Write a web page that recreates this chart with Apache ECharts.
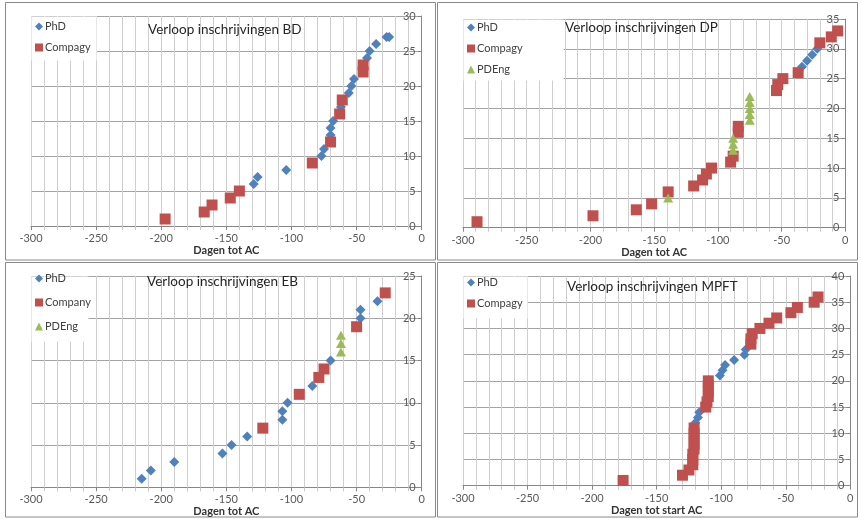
<!DOCTYPE html>
<html>
<head>
<meta charset="utf-8">
<script src="https://cdn.jsdelivr.net/npm/echarts@6/dist/echarts.min.js"></script>
<style>
html,body{margin:0;padding:0;background:#fff;}
#c{width:862px;height:519px;}
</style>
</head>
<body>
<div id="c"></div>
<script>
// ---- Data (days before AC, cumulative registrations) ----
const BD_PhD = [[-129,6],[-126,7],[-104,8],[-77,10],[-75,11],[-70,13],[-70,14],[-68,15],[-62,17],[-56,19],[-54,20],[-52,21],[-42,24],[-40,25],[-35,26],[-27,27],[-25,27]];
const BD_Compagy = [[-197,1],[-167,2],[-161,3],[-147,4],[-140,5],[-84,9],[-70,12],[-63,16],[-61,18],[-45,22],[-45,23]];

const DP_PhD = [[-34,27],[-30,28],[-26,29],[-22,30]];
const DP_Compagy = [[-289,1],[-198,2],[-164,3],[-152,4],[-139,6],[-119,7],[-112,8],[-109,9],[-105,10],[-90,11],[-88,12],[-84,16],[-84,17],[-54,23],[-53,24],[-49,25],[-37,26],[-20,31],[-11,32],[-6,33]];
const DP_PDEng = [[-139,5],[-88,13],[-88,14],[-88,15],[-75,18],[-75,19],[-75,20],[-75,21],[-75,22]];

const EB_PhD = [[-215,1],[-208,2],[-190,3],[-153,4],[-146,5],[-134,6],[-107,8],[-107,9],[-103,10],[-84,12],[-70,15],[-47,20],[-47,21],[-34,22]];
const EB_Company = [[-122,7],[-94,11],[-79,13],[-75,14],[-50,19],[-28,23]];
const EB_PDEng = [[-62,16],[-62,17],[-62,18]];

const MPFT_PhD = [[-120,12],[-118,13],[-117,14],[-101,21],[-99,22],[-97,23],[-90,24],[-82,25],[-81,26]];
const MPFT_Compagy = [[-176,1],[-130,2],[-125,3],[-122,4],[-122,5],[-122,6],[-121,7],[-121,8],[-121,9],[-121,10],[-121,11],[-112,15],[-111,16],[-110,17],[-110,18],[-110,19],[-110,20],[-77,27],[-77,28],[-76,29],[-70,30],[-63,31],[-57,32],[-46,33],[-41,34],[-28,35],[-25,36]];

const titles = ['Verloop inschrijvingen BD','Verloop inschrijvingen DP','Verloop inschrijvingen EB','Verloop inschrijvingen MPFT'];
const xNames = ['Dagen tot AC','Dagen tot AC','Dagen tot AC','Dagen tot start AC'];
const xMin = -300, xMax = 0, xStep = 50;
const yMaxes = [30, 35, 25, 40];
const yStep = 5;

// ---- Layout / style ----
const BLUE = '#4F81BD', RED = '#C0504D', GREEN = '#9BBB59';
const FONT = 'Lato, "Liberation Sans", sans-serif';
const grids = [
  {left:31, top:16, width:390.7, height:210},
  {left:463, top:19, width:382.3, height:208.7},
  {left:31, top:276, width:390.7, height:211.3},
  {left:463, top:276, width:387.3, height:209.7}
];
const titlePos = [[148,23],[565,21],[147,275],[567,280]];
const legendPos = [[35,21],[467,22],[35,273],[467,277]];
const legendGap = [10,10,13,10];
const legendBoxes = [[31,16,65,44],[463,19,100,61],[31,276,57,65],[463,276,64,42]];
const panels = [[5.5,2.5,430,257.5],[437.5,2.5,420,257.5],[5.5,262.5,430,254.5],[437.5,262.5,420,254.5]];

const panelSeries = [
  [['PhD',BD_PhD,'diamond',BLUE],['Compagy',BD_Compagy,'rect',RED]],
  [['PhD',DP_PhD,'diamond',BLUE],['Compagy',DP_Compagy,'rect',RED],['PDEng',DP_PDEng,'triangle',GREEN]],
  [['PhD',EB_PhD,'diamond',BLUE],['Company',EB_Company,'rect',RED],['PDEng',EB_PDEng,'triangle',GREEN]],
  [['PhD',MPFT_PhD,'diamond',BLUE],['Compagy',MPFT_Compagy,'rect',RED]]
];
const symSize = {diamond:[10,10], rect:[11,11], triangle:[10,9]};

const xAxis = [], yAxis = [], series = [], legend = [], title = [], graphic = [];
grids.forEach((g,i)=>{
  xAxis.push({
    type:'value', gridIndex:i, min:xMin, max:xMax, interval:xStep,
    name:xNames[i], nameLocation:'middle', nameGap:19,
    nameTextStyle:{fontFamily:FONT, fontWeight:'bold', fontSize:11, color:'#333'},
    axisLine:{show:true, onZero:false, lineStyle:{color:'#868686', width:1}},
    axisTick:{show:true, length:4, lineStyle:{color:'#868686'}},
    minorTick:{show:true, splitNumber:5, length:4, lineStyle:{color:'#c8c8c8'}},
    axisLabel:{fontFamily:FONT, fontSize:11, color:'#595959', margin:7},
    splitLine:{show:true, lineStyle:{color:'#cfcfcf', width:1}},
    minorSplitLine:{show:true, lineStyle:{color:'#cfcfcf', width:1}}
  });
  yAxis.push({
    type:'value', gridIndex:i, min:0, max:yMaxes[i], interval:yStep, position:'right',
    axisLine:{show:true, onZero:false, lineStyle:{color:'#868686'}},
    axisTick:{show:true, inside:true, length:4, lineStyle:{color:'#868686'}},
    axisLabel:{inside:true, fontFamily:FONT, fontSize:11, color:'#595959', margin:6},
    splitLine:{show:true, lineStyle:{color:'#a3a3a3', width:1}}
  });
  const names = [];
  panelSeries[i].forEach(([name,data,sym,col])=>{
    names.push({name:name, icon:sym, itemStyle:{color:col}});
    series.push({
      type:'scatter', name:name, xAxisIndex:i, yAxisIndex:i, data:data,
      symbol:sym, symbolSize:symSize[sym], itemStyle:{color:col, opacity:1},
      emphasis:{disabled:true}, animation:false
    });
  });
  legend.push({
    data:names, orient:'vertical', left:legendPos[i][0], top:legendPos[i][1],
    itemGap:legendGap[i], itemWidth:8, itemHeight:8, padding:0, selectedMode:false,
    textStyle:{fontFamily:FONT, fontSize:11, color:'#404040', padding:[0,0,0,-3]}
  });
  title.push({
    text:titles[i], left:titlePos[i][0], top:titlePos[i][1], padding:0,
    textStyle:{fontFamily:FONT, fontSize:13.5, fontWeight:'normal', color:'#262626'}
  });
  const b = legendBoxes[i];
  graphic.push({type:'rect', z:1, shape:{x:b[0]+0.5, y:b[1]+0.5, width:b[2], height:b[3]}, style:{fill:'#fff', stroke:null}, silent:true});
  const p = panels[i];
  graphic.push({type:'rect', z:0, shape:{x:p[0], y:p[1], width:p[2], height:p[3]}, style:{fill:'none', stroke:'#8a8a8a', lineWidth:1}, silent:true});
});

const chart = echarts.init(document.getElementById('c'), null, {renderer:'canvas'});
chart.setOption({
  animation:false, backgroundColor:'#fff',
  grid:grids, xAxis:xAxis, yAxis:yAxis, series:series, legend:legend, title:title, graphic:graphic
});
</script>
</body>
</html>
